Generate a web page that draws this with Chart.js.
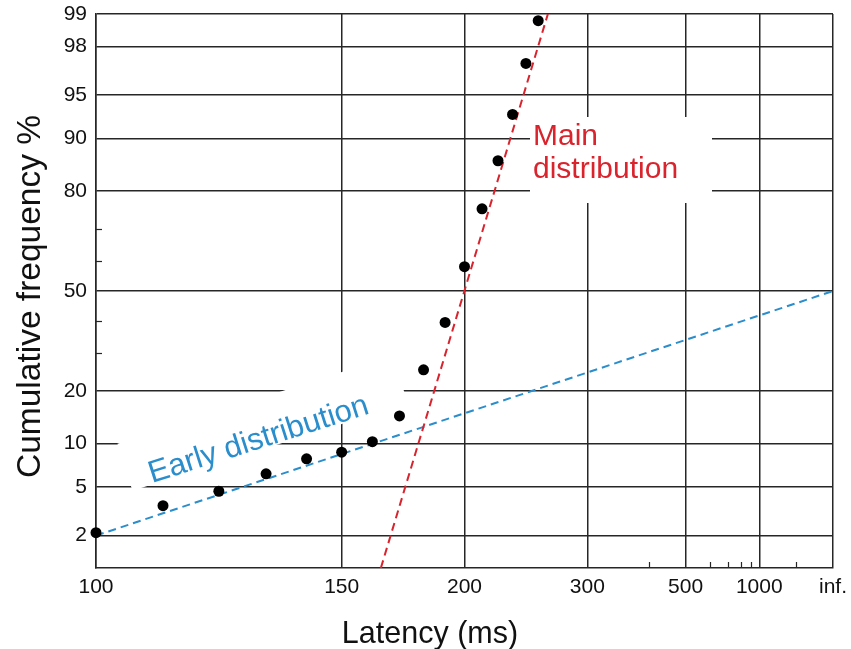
<!DOCTYPE html>
<html><head><meta charset="utf-8">
<script src="https://cdn.jsdelivr.net/npm/chart.js@4.4.0/dist/chart.umd.min.js"></script>
<style>html,body{margin:0;padding:0;background:#fff;}#wrap{width:851px;height:649px;position:relative;}</style>
</head><body><div id="wrap"><canvas id="c" width="851" height="649"></canvas></div>
<script>
// ---- data ----
const latencies = [100,110,120,130,140,150,160,170,180,190,200,210,220,230,240,250];
const cumPercent = [2.12,3.57,4.63,6.23,7.94,8.79,10.28,14.7,25.4,39.6,58.1,75.5,86.3,93.1,97.2,98.84];
const xTickLatencies = [100,150,200,300,500,1000,Infinity];
const xTickLabels = ['100','150','200','300','500','1000','inf.'];
const xMinorLatencies = [400,600,700,800,900,2000];
const yTickPercents = [2,5,10,20,50,80,90,95,98,99];
const yTickLabels = ['2','5','10','20','50','80','90','95','98','99'];
const yMinorPercents = [30,40,60,70];
const mainLineLatency = [163,258.5];
const mainLinePercent = [1,99];
const earlyLineLatency = [100,Infinity];
const earlyLinePercent = [2,50];

// ---- transforms (reciprobit) ----
function probit(p){
  const a=[-3.969683028665376e+01,2.209460984245205e+02,-2.759285104469687e+02,1.383577518672690e+02,-3.066479806614716e+01,2.506628277459239e+00];
  const b=[-5.447609879822406e+01,1.615858368580409e+02,-1.556989798598866e+02,6.680131188771972e+01,-1.328068155288572e+01];
  const c=[-7.784894002430293e-03,-3.223964580411365e-01,-2.400758277161838e+00,-2.549732539343734e+00,4.374664141464968e+00,2.938163982698783e+00];
  const d=[7.784695709041462e-03,3.224671290700398e-01,2.445134137142996e+00,3.754408661907416e+00];
  const pl=0.02425, ph=1-pl; let q,r;
  if(p<pl){q=Math.sqrt(-2*Math.log(p));return (((((c[0]*q+c[1])*q+c[2])*q+c[3])*q+c[4])*q+c[5])/((((d[0]*q+d[1])*q+d[2])*q+d[3])*q+1);}
  if(p<=ph){q=p-0.5;r=q*q;return (((((a[0]*r+a[1])*r+a[2])*r+a[3])*r+a[4])*r+a[5])*q/(((((b[0]*r+b[1])*r+b[2])*r+b[3])*r+b[4])*r+1);}
  q=Math.sqrt(-2*Math.log(1-p));return -(((((c[0]*q+c[1])*q+c[2])*q+c[3])*q+c[4])*q+c[5])/((((d[0]*q+d[1])*q+d[2])*q+d[3])*q+1);
}
const py = pct => probit(pct/100);
const rx = ms => -1000/ms;

const FONT = '"Liberation Sans", Arial, Helvetica, sans-serif';
const GRID = '#262626';
const RED = '#d9232d';
const BLUE = '#2a8dcc';

const annot = {
  id:'annot',
  beforeDatasetsDraw(chart){
    const ctx = chart.ctx, x = chart.scales.x, y = chart.scales.y;
    ctx.save();
    ctx.strokeStyle = GRID; ctx.lineWidth = 1.2;
    xMinorLatencies.forEach(t => {
      const px = Math.round(x.getPixelForValue(rx(t))) + 0.5;
      ctx.beginPath(); ctx.moveTo(px, y.bottom); ctx.lineTo(px, y.bottom - 6); ctx.stroke();
    });
    yMinorPercents.forEach(p => {
      const pp = Math.round(y.getPixelForValue(py(p))) + 0.5;
      ctx.beginPath(); ctx.moveTo(x.left, pp); ctx.lineTo(x.left + 6, pp); ctx.stroke();
    });
    // Main distribution label
    ctx.fillStyle = '#fff';
    ctx.fillRect(530, 117, 182, 86);
    ctx.fillStyle = RED;
    ctx.font = '30px ' + FONT;
    ctx.textAlign = 'left'; ctx.textBaseline = 'alphabetic';
    ctx.fillText('Main', 533, 145);
    ctx.fillText('distribution', 533, 178);
    // Early distribution label
    ctx.translate(152, 483);
    ctx.rotate(-17.7 * Math.PI / 180);
    ctx.fillStyle = '#fff';
    ctx.fillRect(-21, -48, 289, 49.5);
    ctx.fillStyle = BLUE;
    ctx.font = '31px ' + FONT;
    ctx.fillText('Early distribution', 0, 0);
    ctx.restore();
  },
  afterDraw(chart){
    const ctx = chart.ctx;
    ctx.save();
    ctx.fillStyle = '#111';
    ctx.textAlign = 'center'; ctx.textBaseline = 'alphabetic';
    ctx.font = '30.5px ' + FONT;
    ctx.fillText('Latency (ms)', 430, 643);
    ctx.translate(40, 296.5);
    ctx.rotate(-Math.PI / 2);
    ctx.font = '33.5px ' + FONT;
    ctx.fillText('Cumulative frequency %', 0, 0);
    ctx.restore();
  }
};

const pts = latencies.map((t,i) => ({x: rx(t), y: py(cumPercent[i])}));
const mainPts = mainLineLatency.map((t,i) => ({x: rx(t), y: py(mainLinePercent[i])}));
const earlyPts = earlyLineLatency.map((t,i) => ({x: rx(t), y: py(earlyLinePercent[i])}));

new Chart(document.getElementById('c'), {
  type: 'scatter',
  data: { datasets: [
    { data: pts, pointRadius: 5.5, pointBackgroundColor: '#000', pointBorderWidth: 0, showLine: false, clip: false, order: 0 },
    { data: mainPts, showLine: true, borderColor: RED, borderWidth: 2, borderDash: [8,5], pointRadius: 0, order: 1 },
    { data: earlyPts, showLine: true, borderColor: BLUE, borderWidth: 2, borderDash: [8,5], pointRadius: 0, order: 2 }
  ]},
  options: {
    responsive: false, animation: false, devicePixelRatio: 1,
    layout: { padding: { top: 14, right: 18, left: 0, bottom: 0 } },
    plugins: { legend: { display: false }, tooltip: { enabled: false } },
    scales: {
      x: {
        type: 'linear', min: -10, max: 0,
        afterBuildTicks: s => { s.ticks = xTickLatencies.map(t => ({ value: rx(t) })); },
        afterFit: s => { s.height = 81; s.paddingLeft = 0; s.paddingRight = 0; },
        ticks: { callback: (v, i) => xTickLabels[i], color: '#111', font: { family: FONT, size: 21 }, padding: 7, maxRotation: 0, autoSkip: false },
        grid: { color: GRID, lineWidth: 1.5, drawTicks: false },
        border: { color: GRID, width: 1.5 }
      },
      y: {
        type: 'linear', min: py(1), max: py(99),
        afterBuildTicks: s => { s.ticks = yTickPercents.map(p => ({ value: py(p) })); },
        afterFit: s => { s.width = 96; s.paddingTop = 0; s.paddingBottom = 0; },
        ticks: { callback: (v, i) => yTickLabels[i], color: '#111', font: { family: FONT, size: 21 }, padding: 9, autoSkip: false },
        grid: { color: GRID, lineWidth: 1.5, drawTicks: false },
        border: { color: GRID, width: 1.5 }
      }
    }
  },
  plugins: [annot]
});
</script></body></html>
